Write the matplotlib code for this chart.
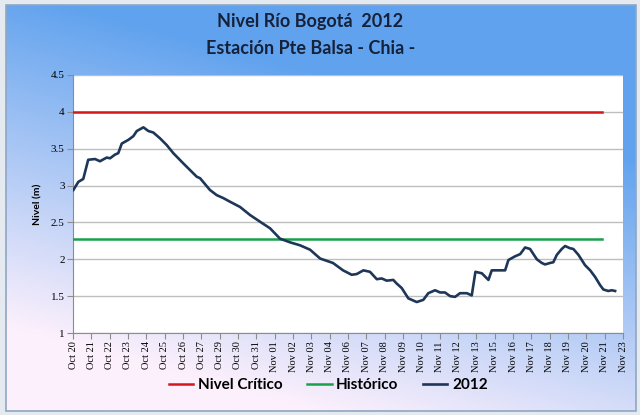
import numpy as np
import matplotlib
matplotlib.use("Agg")
import matplotlib.pyplot as plt
from matplotlib.patches import Rectangle

# category labels on the x axis (one tick per label)
fechas = ["Oct 20", "Oct 21", "Oct 22", "Oct 23", "Oct 24", "Oct 25", "Oct 26",
          "Oct 27", "Oct 29", "Oct 30", "Oct 31", "Nov 01", "Nov 02", "Nov 03",
          "Nov 04", "Nov 06", "Nov 07", "Nov 08", "Nov 09", "Nov 10", "Nov 11",
          "Nov 12", "Nov 13", "Nov 15", "Nov 16", "Nov 17", "Nov 18", "Nov 19",
          "Nov 20", "Nov 21", "Nov 23"]

# 2012 level readings (position along the category axis, level in m)
pos_2012 = [0.02, 0.29, 0.56, 0.83, 1.20, 1.47, 1.84, 2.02, 2.29, 2.47, 2.66,
            3.02, 3.29, 3.48, 3.84, 4.11, 4.38, 4.75, 5.11, 5.47, 6.02, 6.75,
            6.93, 7.47, 7.84, 8.20, 8.57, 9.11, 9.66, 10.20, 10.75, 11.29,
            11.84, 12.38, 12.93, 13.48, 14.18, 14.73, 15.20, 15.48, 15.84,
            16.20, 16.57, 16.84, 17.11, 17.47, 17.66, 17.93, 18.29, 18.75,
            19.11, 19.38, 19.75, 20.02, 20.29, 20.57, 20.84, 21.11, 21.48,
            21.75, 21.95, 22.30, 22.66, 22.84, 23.12, 23.39, 23.57, 23.75,
            24.11, 24.39, 24.66, 24.93, 25.30, 25.57, 25.75, 26.02, 26.20,
            26.39, 26.66, 26.84, 27.11, 27.29, 27.57, 27.93, 28.21, 28.48,
            28.75, 28.93, 29.20, 29.39, 29.57]
nivel_2012 = [2.94, 3.05, 3.09, 3.35, 3.36, 3.33, 3.38, 3.37, 3.42, 3.44, 3.57,
              3.62, 3.67, 3.74, 3.79, 3.74, 3.72, 3.64, 3.55, 3.44, 3.30, 3.12,
              3.10, 2.94, 2.87, 2.83, 2.78, 2.71, 2.60, 2.51, 2.42, 2.28,
              2.23, 2.19, 2.13, 2.01, 1.95, 1.85, 1.79, 1.80, 1.85,
              1.83, 1.73, 1.74, 1.71, 1.72, 1.67, 1.61, 1.47, 1.42,
              1.45, 1.54, 1.58, 1.55, 1.55, 1.50, 1.49, 1.54, 1.54,
              1.51, 1.83, 1.81, 1.72, 1.85, 1.85, 1.85, 1.85, 1.99,
              2.04, 2.07, 2.16, 2.14, 2.00, 1.95, 1.93, 1.95, 1.96,
              2.06, 2.14, 2.18, 2.15, 2.14, 2.06, 1.92, 1.85, 1.76,
              1.65, 1.59, 1.57, 1.58, 1.57]

# reference levels
ref_pos = [0, 28.84]
nivel_critico = [4.0, 4.0]
historico = [2.27, 2.27]

y_ticks = [1, 1.5, 2, 2.5, 3, 3.5, 4, 4.5]
y_labels = ["1", "1.5", "2", "2.5", "3", "3.5", "4", "4.5"]

W, H = 640, 415
fig = plt.figure(figsize=(W / 100, H / 100), dpi=100)
fig.patch.set_facecolor("#E4EAF0")

# background gradient (blue at top right, pale pink at bottom left)
bg = fig.add_axes([6 / W, 1 - 411 / H, 630 / W, 406 / H])
yy, xx = np.mgrid[0:1:200j, 0:1:300j]
t = np.clip(yy * 1.2 - xx * 0.5 + 0.05, 0, 1)[..., None]
top = np.array([96, 162, 238]) / 255
bot = np.array([252, 240, 252]) / 255
bg.imshow(top * (1 - t) + bot * t, aspect="auto", extent=[0, 1, 0, 1])
bg.set_axis_off()
fig.patches.append(Rectangle((6 / W, 1 - 411 / H), 630 / W, 406 / H,
                             transform=fig.transFigure, fill=False,
                             edgecolor="#8FA6C2", linewidth=1.2))

ax = fig.add_axes([73 / W, 1 - 333 / H, 550 / W, 258 / H])
ax.set_facecolor("white")

ax.plot(ref_pos, nivel_critico, color="#D3171B", linewidth=1.8,
        label="Nivel Crítico", zorder=3)
ax.plot(ref_pos, historico, color="#18A14A", linewidth=1.8,
        label="Histórico", zorder=3)
ax.plot(pos_2012, nivel_2012, color="#1E3657", linewidth=1.9,
        label="2012", zorder=4)

ax.set_xlim(0, len(fechas) - 1)
ax.set_ylim(1, 4.5)
ax.set_xticks(range(len(fechas)))
ax.set_xticklabels(fechas, rotation=90, family="Liberation Serif", fontsize=7.5)
ax.set_yticks(y_ticks)
ax.set_yticklabels(y_labels, family="Liberation Serif", fontsize=8)
ax.grid(axis="y", color="#BEBEBE", linewidth=1)
ax.set_axisbelow(True)
ax.tick_params(axis="both", direction="out", length=4, color="#8C8C8C",
               width=0.8, pad=2)
for s in ["top", "right"]:
    ax.spines[s].set_visible(False)
for s in ["left", "bottom"]:
    ax.spines[s].set_color("#8C8C8C")
    ax.spines[s].set_linewidth(0.8)

ax.set_ylabel("Nivel (m)", family="Lato", fontweight="bold", fontsize=7.5,
              labelpad=6)

fig.text(0.485, 0.947, "Nivel Río Bogotá  2012", ha="center", va="center",
         family="Lato", fontweight="bold", fontsize=13, color="#16213A")
fig.text(0.485, 0.884, "Estación Pte Balsa - Chia -", ha="center", va="center",
         family="Lato", fontweight="bold", fontsize=13, color="#16213A")

fig.legend(loc="center", bbox_to_anchor=(0.513, 0.072), ncol=3, frameon=False,
           prop={"family": "Lato", "weight": "bold", "size": 11},
           handlelength=1.6, handletextpad=0.3, columnspacing=1.6)

fig.savefig("out.png", dpi=100, facecolor=fig.get_facecolor())
